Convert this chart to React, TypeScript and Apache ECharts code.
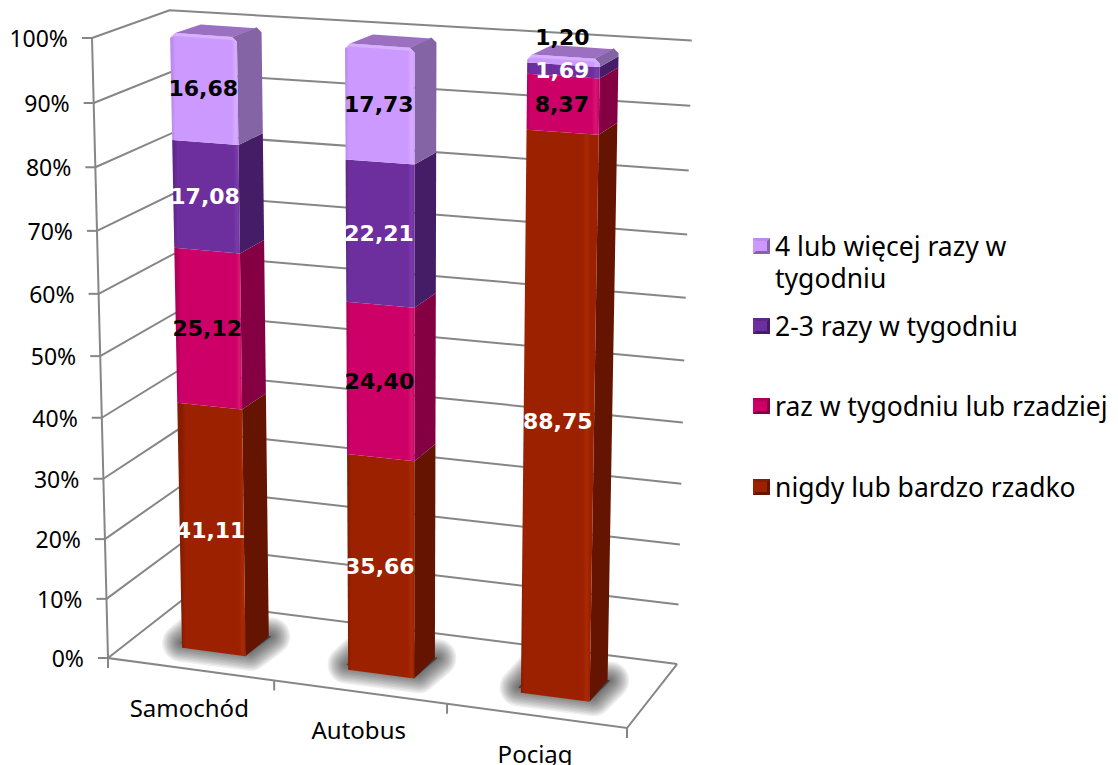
import React, { useEffect, useRef } from "react";
import * as echarts from "echarts";

const categories = ["Samochód", "Autobus", "Pociąg"];
const seriesNames = ["nigdy lub bardzo rzadko", "raz w tygodniu lub rzadziej", "2-3 razy w tygodniu", "4 lub więcej razy w tygodniu"];
const nigdy = [41.11, 35.66, 88.75];
const razWTygodniu = [25.12, 24.4, 8.37];
const dwaTrzyRazy = [17.08, 22.21, 1.69];
const czteryLubWiecej = [16.68, 17.73, 1.2];
const yTicks = [0, 10, 20, 30, 40, 50, 60, 70, 80, 90, 100];

const FONT = "'Noto Sans', sans-serif";
const LABEL_FONT = "'DejaVu Sans', sans-serif";
const GRID = "#868686";

const palette = [
  { front: "#9C2100", dark: "#861C00", light: "#AB2A05", side: "#641400", label: "#ffffff" },
  { front: "#CC0066", dark: "#B00058", light: "#D81674", side: "#850042", label: "#000000" },
  { front: "#6D2F9E", dark: "#5E2889", light: "#7A3BAB", side: "#451C66", label: "#ffffff" },
  { front: "#CC99FF", dark: "#BC8BEE", light: "#D9ADFF", side: "#8564A6", label: "#000000" },
];
const TOP_FACE = "#9B70C0";
const HIGHLIGHT = "#D8B0FF";

// Corners of the chart box on the page and the weights of the perspective
const A = [108, 658];
const B = [627, 728];
const E = [92, 38];
const D = [181, 601];
const wU = 0.942;
const wV = 0.949;
const wW = 1.052;
const project = (u: number, v: number, w: number) => {
  const a = 1 - u - v - w;
  const den = a + u * wU + v * wV + w * wW;
  return [0, 1].map((i) => (a * A[i] + u * wU * B[i] + v * wV * E[i] + w * wW * D[i]) / den);
};

const BAR_HALF = 0.0645;
const BAR_SHIFT = 0.005;
const W1 = 0.29;
const W2 = 0.63;

const fmt = (n: number) => n.toFixed(2).replace(".", ",");

const norm = (params: any, api: any, cat: number, val: number) => {
  const p = api.coord([cat, val]);
  const g = params.coordSys;
  return { u: (p[0] - g.x) / g.width, v: 1 - (p[1] - g.y) / g.height };
};

const frameRender = (params: any, api: any) => {
  const tick = api.value(1);
  const { v } = norm(params, api, 0, tick);
  const line = (pts: number[][], w = 2) => ({
    type: "polyline",
    shape: { points: pts },
    style: { stroke: GRID, lineWidth: w, fill: "none" },
  });
  const front = project(0, v, 0);
  const kids: any[] = [
    line([project(0, v, 0), project(0, v, 1), project(1, v, 1)]),
    line([[front[0] - 10, front[1]], front]),
    {
      type: "text",
      style: {
        x: front[0] - 24,
        y: front[1],
        text: tick + "%",
        fill: "#000",
        fontSize: 23,
        fontFamily: FONT,
        align: "right",
        verticalAlign: "middle",
      },
    },
  ];
  if (tick === 0) {
    kids.push(line([project(0, 1, 0), project(0, 0, 0), project(1, 0, 0), project(1, 0, 1)]));
    [0, 1, 2, 3].forEach((i) => {
      const p = project(i / 3, 0, 0);
      kids.push(line([p, [p[0], p[1] + 10]]));
    });
  }
  return { type: "group", children: kids };
};

const categoryRender = (params: any, api: any) => {
  const cat = api.value(0);
  const { u } = norm(params, api, cat, 0);
  const p = project(u, 0, 0);
  return {
    type: "text",
    style: {
      x: p[0] - 1,
      y: p[1] + 38,
      text: categories[cat],
      fill: "#000",
      fontSize: 24,
      fontFamily: FONT,
      align: "center",
      verticalAlign: "middle",
    },
  };
};

// Soft shadow on the floor: stacked, see-through, round-cornered outlines
const SHADOW_LAYERS = [38, 35, 32, 29, 26, 23, 20, 17, 14, 11, 8, 5, 2];
const shadowRender = (params: any, api: any) => {
  const cat = api.value(0);
  const c = norm(params, api, cat, 0).u + BAR_SHIFT;
  const pts = [
    project(c - BAR_HALF - 0.012, 0, W1 + 0.07),
    project(c + BAR_HALF, 0, W1 + 0.07),
    project(c + BAR_HALF + 0.005, 0, W2),
    project(c - BAR_HALF - 0.012, 0, W2),
  ];
  return {
    type: "group",
    children: SHADOW_LAYERS.map((lw) => ({
      type: "polygon",
      shape: { points: pts },
      style: { fill: "#222", stroke: "#222", lineWidth: lw, lineJoin: "round", opacity: 0.075 },
    })),
  };
};

const barRender = (s: number) => (params: any, api: any) => {
  const cat = api.value(0);
  const base = api.value(1);
  const top = api.value(2);
  const u = norm(params, api, cat, base).u + BAR_SHIFT;
  const v0 = norm(params, api, cat, base).v;
  const v1 = Math.min(1, norm(params, api, cat, top).v);
  const c = palette[s];
  const h = BAR_HALF;
  const fl0 = project(u - h, v0, W1);
  const fr0 = project(u + h, v0, W1);
  const fl1 = project(u - h, v1, W1);
  const fr1 = project(u + h, v1, W1);
  const br0 = project(u + h, v0, W2);
  const br1 = project(u + h, v1, W2);
  const bl1 = project(u - h, v1, W2);
  const fill = {
    type: "linear",
    x: fl0[0],
    y: 0,
    x2: fr0[0],
    y2: 0,
    global: true,
    colorStops: [
      { offset: 0, color: c.dark },
      { offset: 0.05, color: c.front },
      { offset: 0.9, color: c.front },
      { offset: 0.96, color: c.light },
      { offset: 1, color: c.front },
    ],
  };
  const R = 5;
  const frontPts =
    s === 3
      ? [fl0, fr0, [fr1[0], fr1[1] + R], [fr1[0] - R, fr1[1]], [fl1[0] + R, fl1[1]], [fl1[0], fl1[1] + R]]
      : [fl0, fr0, fr1, fl1];
  const sidePts = s === 3 ? [fr0, br0, [br1[0], br1[1] + R], [br1[0] - R, br1[1]], [fr1[0] - R, fr1[1]], [fr1[0], fr1[1] + R]] : [fr0, br0, br1, fr1];
  const kids: any[] = [
    { type: "polygon", shape: { points: sidePts }, style: { fill: c.side } },
    { type: "polygon", shape: { points: frontPts }, style: { fill } },
  ];
  if (s === 3) {
    kids.push({
      type: "polygon",
      shape: { points: [[fl1[0] + R, fl1[1]], [fr1[0] - R, fr1[1]], [br1[0] - R, br1[1] + 1], [bl1[0] + R, bl1[1] + 1]] },
      style: { fill: TOP_FACE },
    });
    kids.push({
      type: "polygon",
      shape: {
        points: [
          [fl1[0], fl1[1] + R],
          [fl1[0] + R, fl1[1]],
          [fr1[0] - R, fr1[1]],
          [fr1[0], fr1[1] + R],
          [fr1[0] - R, fr1[1] + 3],
          [fl1[0] + R, fl1[1] + 3],
        ],
      },
      style: { fill: HIGHLIGHT },
    });
  }
  return { type: "group", children: kids };
};

const labelRender = (s: number) => (params: any, api: any) => {
  const cat = api.value(0);
  const base = api.value(1);
  const top = api.value(2);
  const u = norm(params, api, cat, base).u + BAR_SHIFT;
  const mid = norm(params, api, cat, (base + top) / 2).v;
  const p = project(u, Math.min(1, mid), W1);
  const thin = top - base < 1.5;
  return {
    type: "text",
    style: {
      x: p[0] - 1,
      y: p[1] - (thin ? 23 : 0),
      text: fmt(top - base),
      fill: thin ? "#000" : palette[s].label,
      fontSize: 22,
      fontWeight: "bold",
      fontFamily: LABEL_FONT,
      align: "center",
      verticalAlign: "middle",
    },
  };
};

const stack = (arrs: number[][], s: number) =>
  categories.map((_, i) => {
    let base = 0;
    for (let k = 0; k < s; k++) base += arrs[k][i];
    return [i, base, base + arrs[s][i]];
  });

const legendIcon = "path://M0 0L0 0M0 64L0 64M0 8H17V24H0Z";
const legendCentres = [246, 326, 406, 487];

// The bevel on the legend's squares
const bevel = (cy: number, s: number) => {
  const x = 753;
  const y = cy - 8;
  const d = 3;
  const c = palette[s];
  const poly = (points: number[][], fill: string) => ({ type: "polygon", silent: true, z: 100, shape: { points }, style: { fill } });
  return [
    poly([[x, y + 16], [x + 17, y + 16], [x + 17 - d, y + 16 - d], [x + d, y + 16 - d]], c.side),
    poly([[x + 17, y], [x + 17, y + 16], [x + 17 - d, y + 16 - d], [x + 17 - d, y + d]], c.side),
    poly([[x, y], [x + 17, y], [x + 17 - d, y + d], [x + d, y + d]], c.dark),
  ];
};

export default function App() {
  const ref = useRef<HTMLDivElement>(null);
  useEffect(() => {
    document.body.style.margin = "0";
    const chart = echarts.init(ref.current!, null, { renderer: "svg" });
    const arrs = [nigdy, razWTygodniu, dwaTrzyRazy, czteryLubWiecej];
    const ltext = { fontSize: 26.5, fontFamily: FONT, color: "#000", lineHeight: 32 };
    const bars = seriesNames.map((name, s) => ({
      type: "custom",
      name,
      z: 5 + s,
      silent: true,
      itemStyle: { color: palette[s].front },
      renderItem: barRender(s),
      encode: { x: 0, y: [1, 2] },
      data: stack(arrs, s),
    }));
    const labels = seriesNames.map((_, s) => ({
      type: "custom",
      z: 20,
      silent: true,
      renderItem: labelRender(s),
      encode: { x: 0, y: [1, 2] },
      data: stack(arrs, s),
    }));
    const legendBase = { left: 753, padding: 0, itemWidth: 17, itemHeight: 16, icon: "rect", textStyle: ltext };
    chart.setOption({
      animation: false,
      backgroundColor: "#fff",
      grid: { left: 100, right: 400, top: 50, bottom: 100 },
      xAxis: { type: "category", data: categories, show: false },
      yAxis: { type: "value", min: 0, max: 100, show: false },
      legend: [
        { ...legendBase, data: [seriesNames[3]], top: legendCentres[0] - 16, itemHeight: 64, icon: legendIcon,
          formatter: () => "4 lub więcej razy w\ntygodniu" },
        { ...legendBase, data: [seriesNames[2]], top: legendCentres[1] - 16 },
        { ...legendBase, data: [seriesNames[1]], top: legendCentres[2] - 16 },
        { ...legendBase, data: [seriesNames[0]], top: legendCentres[3] - 16 },
      ],
      graphic: { elements: [3, 2, 1, 0].flatMap((s, i) => bevel(legendCentres[i], s)) },
      series: [
        { type: "custom", z: 1, silent: true, renderItem: frameRender, encode: { x: 0, y: 1 }, data: yTicks.map((t) => [0, t]) },
        { type: "custom", z: 2, silent: true, renderItem: shadowRender, encode: { x: 0, y: 1 }, data: categories.map((_, i) => [i, 0]) },
        { type: "custom", z: 3, silent: true, renderItem: categoryRender, encode: { x: 0, y: 1 }, data: categories.map((_, i) => [i, 0]) },
        ...bars,
        ...labels,
      ],
    });
    return () => chart.dispose();
  }, []);
  return <div ref={ref} style={{ width: 1118, height: 765 }} />;
}
